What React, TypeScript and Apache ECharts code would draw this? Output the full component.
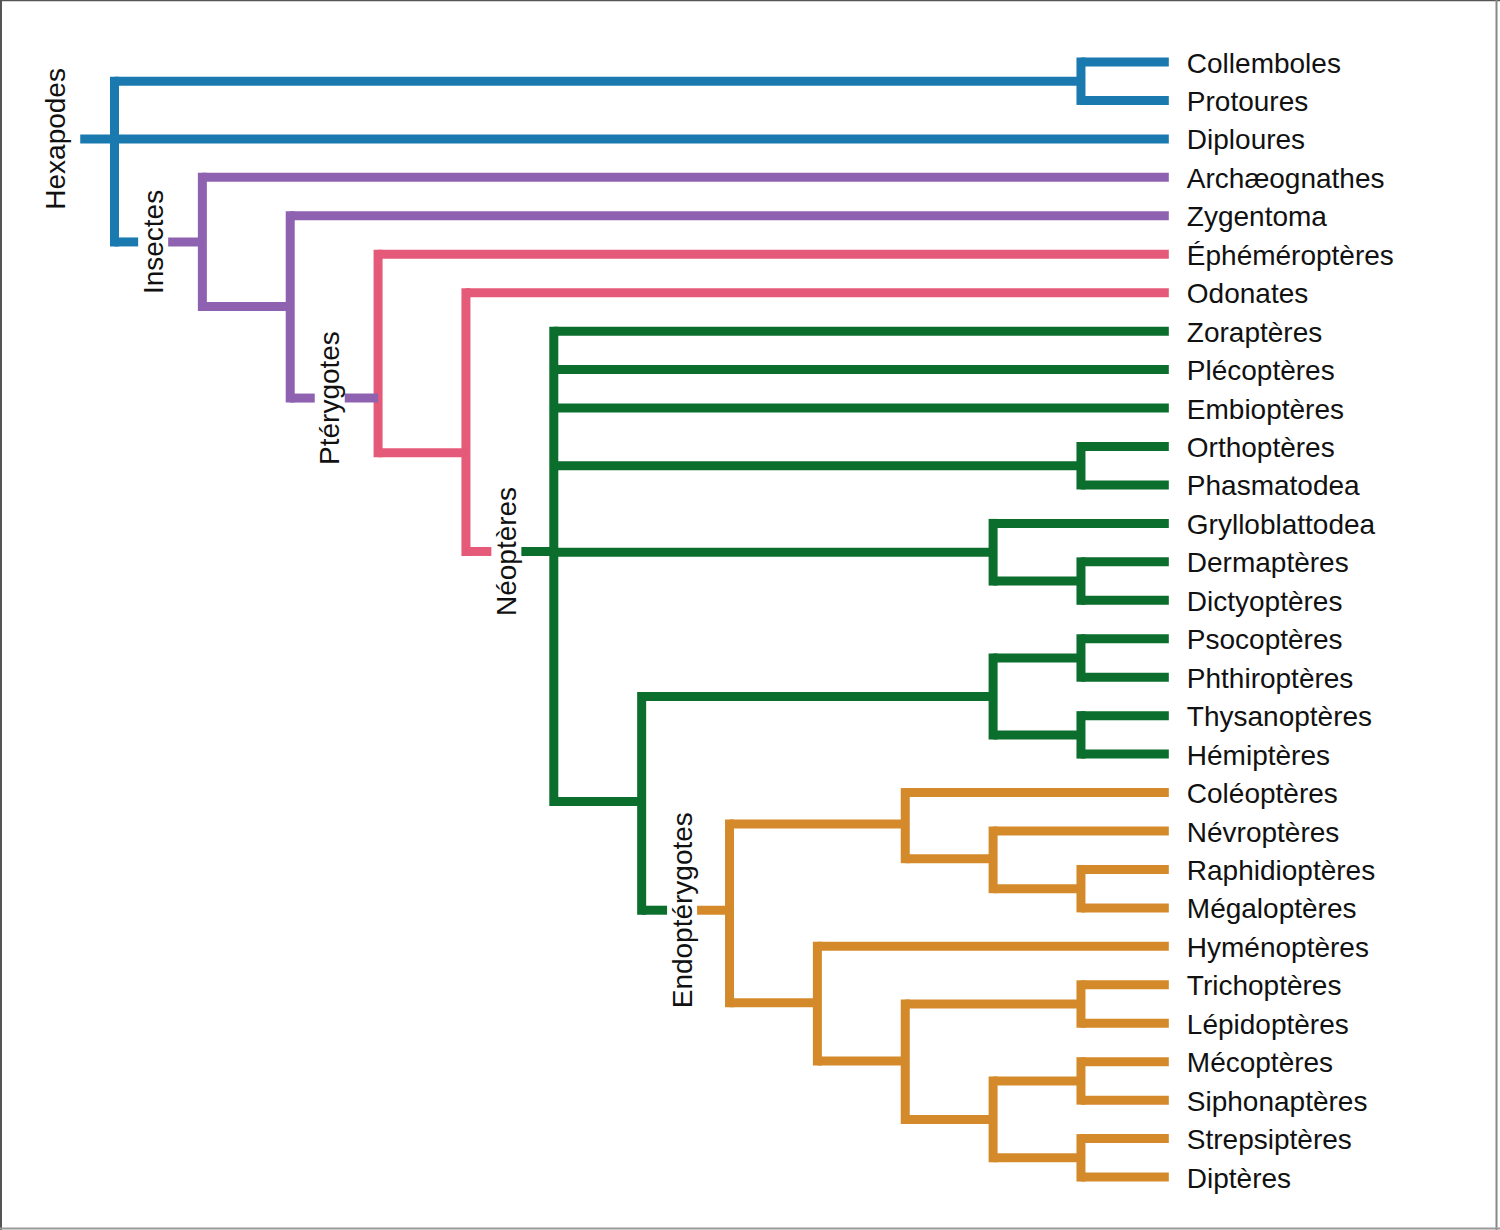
import React, { useEffect, useRef } from 'react';
import * as echarts from 'echarts';

// ---- Leaves (top to bottom) ----
const leafNames = [
  'Collemboles', 'Protoures', 'Diploures', 'Archæognathes', 'Zygentoma',
  'Éphéméroptères', 'Odonates', 'Zoraptères', 'Plécoptères', 'Embioptères',
  'Orthoptères', 'Phasmatodea', 'Grylloblattodea', 'Dermaptères', 'Dictyoptères',
  'Psocoptères', 'Phthiroptères', 'Thysanoptères', 'Hémiptères', 'Coléoptères',
  'Névroptères', 'Raphidioptères', 'Mégaloptères', 'Hyménoptères', 'Trichoptères',
  'Lépidoptères', 'Mécoptères', 'Siphonaptères', 'Strepsiptères', 'Diptères',
];
const leafParents = [
  'CP', 'CP', 'H', 'I', 'Z', 'P', 'O', 'N', 'N', 'N', 'OP', 'OP', 'GDD', 'DD', 'DD',
  'PP', 'PP', 'TH', 'TH', 'C', 'NRM', 'RM', 'RM', 'HY', 'TL', 'TL', 'MS', 'MS', 'SD', 'SD',
];
const leafLevel = 12;

// ---- Internal nodes ----
const nodeIds = ['H', 'CP', 'I', 'Z', 'P', 'O', 'N', 'OP', 'GDD', 'DD', 'E', 'PA', 'PP', 'TH', 'EN', 'C', 'NRM', 'RM', 'HY', 'ME', 'TL', 'AN', 'MS', 'SD'];
const nodeParents = ['', 'H', 'H', 'I', 'Z', 'P', 'O', 'N', 'N', 'GDD', 'N', 'E', 'PA', 'PA', 'E', 'EN', 'C', 'NRM', 'EN', 'HY', 'ME', 'ME', 'AN', 'AN'];
const nodeLevels = [0, 11, 1, 2, 3, 4, 5, 11, 10, 11, 6, 10, 11, 11, 7, 9, 10, 11, 8, 9, 11, 10, 11, 11];
const nodeRows = [2, 0.5, 4.68, 6.36, 8.74, 10.16, 12.73, 10.5, 12.75, 13.5, 19.23, 16.5, 15.5, 17.5, 22.06, 19.82, 20.72, 21.5, 24.47, 25.98, 24.5, 27.5, 26.5, 28.5];
const rootStubLevel = -0.39;

// ---- Named clades ----
const cladeNames = ['Hexapodes', 'Insectes', 'Ptérygotes', 'Néoptères', 'Endoptérygotes'];
const cladeNodes = ['H', 'I', 'P', 'N', 'EN'];
const cladeLabelLevels = [-0.67, 0.44, 2.45, 4.46, 6.46];
const cladeColors = ['#1a7ab0', '#8e62b0', '#e55a78', '#0b6e2d', '#d48a2a'];
// colour (index into cladeColors) of the stem segment after each clade label
const cladeStemColors = [0, 1, 1, 3, 4];

const LW = 9;
const GAP = 15;
const FONT = '"Liberation Sans", Arial, Helvetica, sans-serif';

function buildData() {
  const idx: Record<string, number> = {};
  nodeIds.forEach((id, i) => (idx[id] = i));
  const nodeColor = nodeIds.map((_, i) => {
    let j = i;
    while (cladeNodes.indexOf(nodeIds[j]) < 0) j = idx[nodeParents[j]];
    return cladeNodes.indexOf(nodeIds[j]);
  });
  const labelFor = (id: string) => {
    const k = cladeNodes.indexOf(id);
    return k >= 0 ? cladeLabelLevels[k] : -99;
  };
  const stemFor = (id: string, c: number) => {
    const k = cladeNodes.indexOf(id);
    return k >= 0 ? cladeStemColors[k] : c;
  };
  // branches: [fromLevel, toLevel, row, leftColor, rightColor, labelLevel]
  const branches: number[][] = [];
  nodeIds.forEach((id, i) => {
    const c = nodeColor[i];
    if (!nodeParents[i]) {
      branches.push([rootStubLevel, nodeLevels[i], nodeRows[i], c, stemFor(id, c), labelFor(id)]);
    } else {
      const p = idx[nodeParents[i]];
      branches.push([nodeLevels[p], nodeLevels[i], nodeRows[i], nodeColor[p], stemFor(id, c), labelFor(id)]);
    }
  });
  leafNames.forEach((_, r) => {
    const p = idx[leafParents[r]];
    branches.push([nodeLevels[p], leafLevel, r, nodeColor[p], nodeColor[p], -99]);
  });
  // verticals: [level, rowMin, rowMax, color]
  const verticals: number[][] = nodeIds.map((id, i) => {
    const rows: number[] = [];
    nodeIds.forEach((_, j) => { if (nodeParents[j] === id) rows.push(nodeRows[j]); });
    leafParents.forEach((p, r) => { if (p === id) rows.push(r); });
    return [nodeLevels[i], Math.min(...rows), Math.max(...rows), nodeColor[i]];
  });
  const leafData = leafNames.map((_, r) => [leafLevel, r]);
  const cladeData = cladeNodes.map((id, k) => [cladeLabelLevels[k], nodeRows[idx[id]]]);
  return { branches, verticals, leafData, cladeData };
}

export default function App() {
  const ref = useRef<HTMLDivElement>(null);
  useEffect(() => {
    if (!ref.current) return;
    const chart = echarts.init(ref.current, undefined, { renderer: 'svg' });
    const { branches, verticals, leafData, cladeData } = buildData();
    const option: any = {
      animation: false,
      backgroundColor: '#ffffff',
      grid: { left: 26.64, top: 62, width: 1142.18, height: 1115.05, containLabel: false },
      xAxis: { type: 'value', min: -1, max: 12, show: false },
      yAxis: { type: 'value', min: 0, max: 29, inverse: true, show: false },
      graphic: [
        { type: 'line', shape: { x1: 1, y1: 0, x2: 1, y2: 1230 }, style: { stroke: '#555', lineWidth: 2 } },
        { type: 'line', shape: { x1: 0, y1: 0.5, x2: 1500, y2: 0.5 }, style: { stroke: '#555', lineWidth: 1.5 } },
        { type: 'line', shape: { x1: 1496.5, y1: 0, x2: 1496.5, y2: 1230 }, style: { stroke: '#888', lineWidth: 2 } },
        { type: 'line', shape: { x1: 0, y1: 1228.5, x2: 1500, y2: 1228.5 }, style: { stroke: '#999', lineWidth: 2 } },
      ],
      series: [
        {
          type: 'custom',
          silent: true,
          data: verticals,
          renderItem: (params: any, api: any) => {
            const d = verticals[params.dataIndex];
            const a = api.coord([d[0], d[1]]);
            const b = api.coord([d[0], d[2]]);
            return {
              type: 'line',
              shape: { x1: a[0], y1: a[1], x2: b[0], y2: b[1] },
              style: { stroke: cladeColors[d[3]], lineWidth: LW, lineCap: 'square' },
            };
          },
        },
        {
          type: 'custom',
          silent: true,
          data: branches,
          renderItem: (params: any, api: any) => {
            const d = branches[params.dataIndex];
            const a = api.coord([d[0], d[2]]);
            const b = api.coord([d[1], d[2]]);
            const seg = (x1: number, x2: number, c: number) => ({
              type: 'line',
              shape: { x1, y1: a[1], x2, y2: a[1] },
              style: { stroke: cladeColors[c], lineWidth: LW, lineCap: 'butt' },
            });
            const children: any[] = [];
            if (d[5] > d[0] && d[5] < d[1]) {
              const m = api.coord([d[5], d[2]])[0];
              children.push(seg(a[0], m - GAP, d[3]), seg(m + GAP, b[0], d[4]));
            } else {
              children.push(seg(a[0], b[0], d[4]));
            }
            return { type: 'group', children };
          },
        },
        {
          type: 'custom',
          silent: true,
          data: leafData,
          renderItem: (params: any, api: any) => {
            const d = leafData[params.dataIndex];
            const p = api.coord([d[0], d[1]]);
            return {
              type: 'text',
              x: p[0] + 18,
              y: p[1] + 1,
              style: {
                text: leafNames[params.dataIndex],
                fill: '#111',
                font: `28px ${FONT}`,
                align: 'left',
                verticalAlign: 'middle',
              },
            };
          },
        },
        {
          type: 'custom',
          silent: true,
          data: cladeData,
          renderItem: (params: any, api: any) => {
            const d = cladeData[params.dataIndex];
            const p = api.coord([d[0], d[1]]);
            return {
              type: 'text',
              x: p[0],
              y: p[1],
              rotation: Math.PI / 2,
              style: {
                text: cladeNames[params.dataIndex],
                fill: '#111',
                font: `28px ${FONT}`,
                align: 'center',
                verticalAlign: 'middle',
              },
            };
          },
        },
      ],
    };
    chart.setOption(option);
    return () => chart.dispose();
  }, []);
  return (
    <div
      ref={ref}
      style={{ position: 'absolute', left: 0, top: 0, width: 1500, height: 1230, background: '#fff' }}
    />
  );
}
